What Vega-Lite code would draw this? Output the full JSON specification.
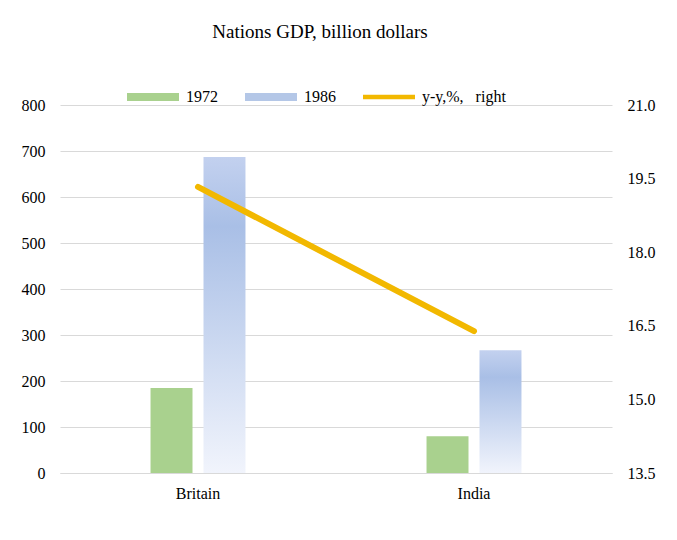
{
  "$schema": "https://vega.github.io/schema/vega-lite/v6.json",
  "width": 552,
  "height": 368,
  "autosize": {"type": "none"},
  "padding": {"left": 60, "top": 105, "right": 65, "bottom": 67},
  "background": "#ffffff",
  "title": {
    "text": "Nations GDP, billion dollars",
    "font": "Liberation Serif",
    "fontSize": 19,
    "fontWeight": "normal",
    "color": "#000000",
    "anchor": "middle",
    "dx": -16,
    "offset": 28
  },
  "datasets": {
    "gdp": [
      {"country": "Britain", "year": "1972", "gdp": 185},
      {"country": "Britain", "year": "1986", "gdp": 687},
      {"country": "India", "year": "1972", "gdp": 80},
      {"country": "India", "year": "1986", "gdp": 267}
    ],
    "yy": [
      {"country": "Britain", "yy": 19.33},
      {"country": "India", "yy": 16.39}
    ]
  },
  "config": {
    "view": {"stroke": null},
    "axis": {
      "labelFont": "Liberation Serif",
      "labelFontSize": 16,
      "labelColor": "#000000",
      "title": null
    }
  },
  "layer": [
    {
      "layer": [
        {
          "data": {"name": "gdp"},
          "transform": [{"filter": "datum.year == '1972'"}],
          "mark": {"type": "bar"},
          "encoding": {
            "x": {
              "field": "country",
              "type": "nominal",
              "scale": {"domain": ["Britain", "India"], "paddingInner": 0.656, "paddingOuter": 0.328},
              "axis": {"labelAngle": 0, "ticks": false, "domainColor": "#d9d9d9", "domainWidth": 1, "labelPadding": 12}
            },
            "xOffset": {
              "field": "year",
              "type": "nominal",
              "scale": {"domain": ["1972", "1986"], "paddingInner": 0.2075, "paddingOuter": 0}
            },
            "y": {
              "field": "gdp",
              "type": "quantitative",
              "scale": {"domain": [0, 800], "nice": false},
              "axis": {
                "values": [0, 100, 200, 300, 400, 500, 600, 700, 800],
                "domain": false,
                "ticks": false,
                "labelPadding": 15,
                "gridColor": "#d9d9d9",
                "gridWidth": 1
              }
            },
            "color": {
              "field": "year",
              "type": "nominal",
              "scale": {
                "domain": ["1972", "1986", "y-y,%, right"],
                "range": ["#a9d18e", "#b4c7e7", "#f2b800"]
              },
              "legend": {
                "title": null,
                "orient": "none",
                "direction": "horizontal",
                "legendX": 66,
                "legendY": -35,
                "labelFont": "Liberation Serif",
                "labelFontSize": 16,
                "labelColor": "#000000",
                "labelOffset": 6,
                "columnPadding": 24,
                "symbolSize": 2704,
                "symbolType": "M-1,-0.15H1V0.15H-1Z",
                "labelExpr": "datum.value == 'y-y,%, right' ? 'y-y,%,\u00a0\u00a0 right' : datum.label",
                "encode": {
                  "symbols": {
                    "update": {
                      "shape": {"signal": "datum.value == 'y-y,%, right' ? 'M-1,-0.085H1V0.085H-1Z' : 'M-1,-0.15H1V0.15H-1Z'"},
                      "fill": {"signal": "datum.value == '1986' ? {gradient: 'linear', x1: 0, y1: 0, x2: 1, y2: 0, stops: [{offset: 0, color: '#f0f3fb'}, {offset: 1, color: '#a9bfe6'}]} : (datum.value == '1972' ? '#a9d18e' : '#f2b800')"},
                      "opacity": {"value": 1}
                    }
                  }
                }
              }
            }
          }
        },
        {
          "data": {"name": "gdp"},
          "transform": [{"filter": "datum.year == '1986'"}],
          "mark": {
            "type": "bar",
            "color": {
              "gradient": "linear",
              "x1": 0, "y1": 0, "x2": 0, "y2": 1,
              "stops": [
                {"offset": 0, "color": "#c3d1ef"},
                {"offset": 0.22, "color": "#a9bfe6"},
                {"offset": 1, "color": "#f1f4fc"}
              ]
            }
          },
          "encoding": {
            "x": {"field": "country", "type": "nominal"},
            "xOffset": {"field": "year", "type": "nominal", "scale": {"domain": ["1972", "1986"]}},
            "y": {"field": "gdp", "type": "quantitative"}
          }
        }
      ]
    },
    {
      "data": {"name": "yy"},
      "mark": {"type": "line", "color": "#f2b800", "strokeWidth": 6, "strokeCap": "round"},
      "encoding": {
        "x": {"field": "country", "type": "nominal"},
        "y": {
          "field": "yy",
          "type": "quantitative",
          "scale": {"domain": [13.5, 21], "nice": false, "zero": false},
          "axis": {
            "orient": "right",
            "values": [13.5, 15, 16.5, 18, 19.5, 21],
            "format": ".1f",
            "domain": false,
            "ticks": false,
            "grid": false,
            "labelPadding": 15
          }
        }
      }
    }
  ],
  "resolve": {"scale": {"y": "independent"}}
}
